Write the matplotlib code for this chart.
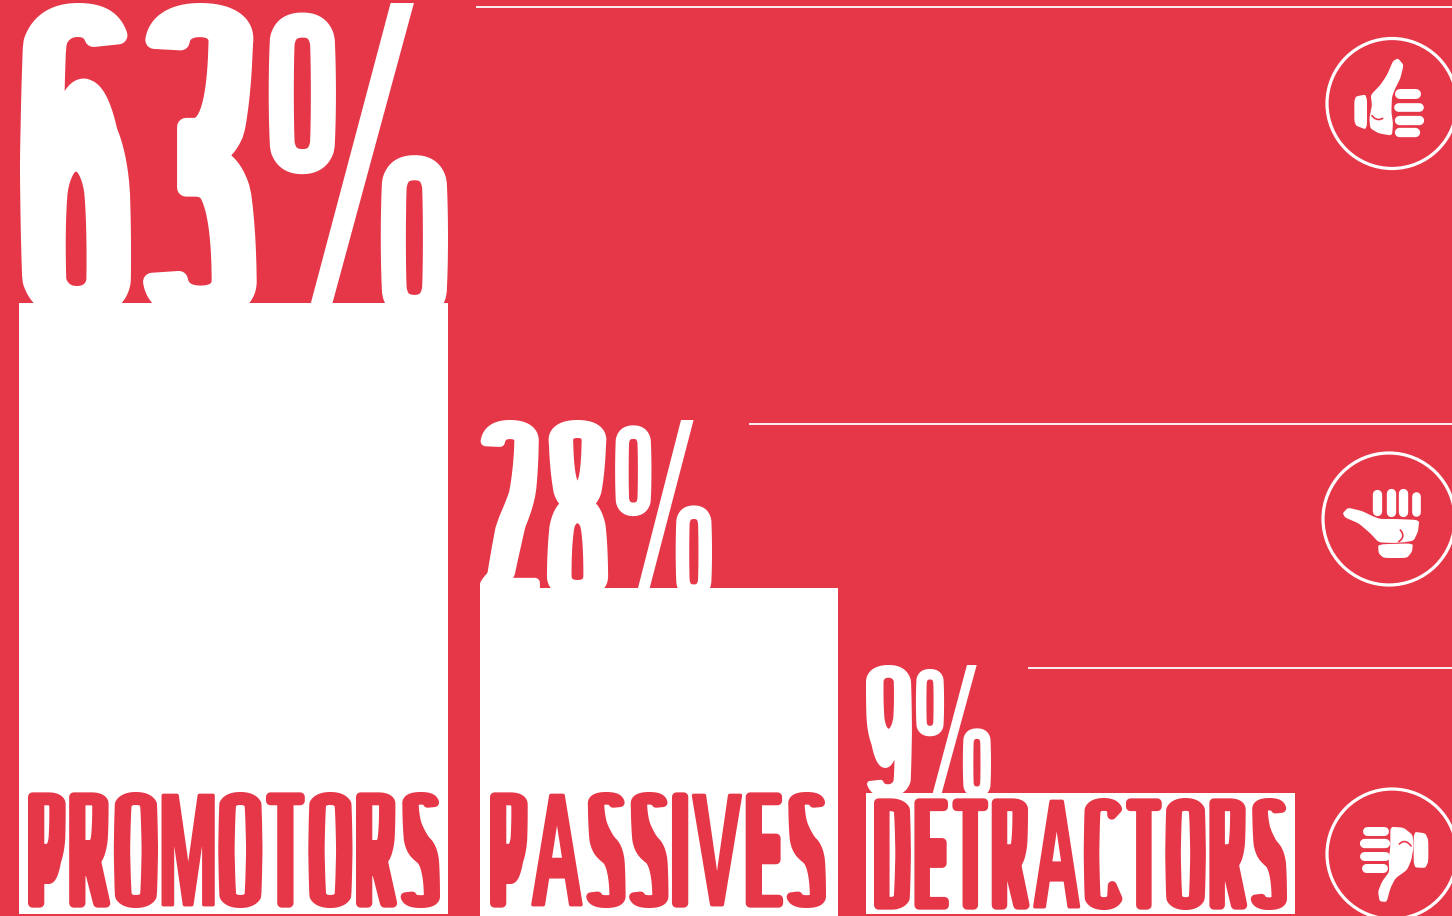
import numpy as np
import matplotlib
matplotlib.use("Agg")
import matplotlib.pyplot as plt
from matplotlib.font_manager import FontProperties
from matplotlib.patches import Circle, Polygon
from matplotlib.path import Path
from matplotlib.patheffects import AbstractPathEffect
from matplotlib.textpath import TextPath
from matplotlib.transforms import Affine2D, IdentityTransform

# survey shares
categories = ["PROMOTORS", "PASSIVES", "DETRACTORS"]
shares = [63, 28, 9]
share_labels = ["63%", "28%", "9%"]

RED = "#e63748"
WHITE = "#ffffff"
W, H = 1452, 916

# bar columns, in pixels
bar_left = [19, 480, 866]
bar_width = [429, 358, 429]
bar_floor = [0, -2, 0]

font = FontProperties(family=["Liberation Sans Narrow", "Liberation Sans"], weight="bold")


def rescale(v, lo, hi):
	return lo + (v - v.min()) / (v.max() - v.min()) * (hi - lo)


# straight contours with diagonals (A, M, V) are not bent, the warp would kink them
def is_slanted(p):
	d = np.diff(p, axis=0)
	seg = np.hypot(d[:, 0], d[:, 1])
	straight = len(p) <= 16 or (len(p) <= 30 and np.median(seg) > 60)
	return straight and np.any((np.abs(d[:, 0]) > 20) & (np.abs(d[:, 1]) > 20))


# reshapes the outlines of a string into a tall condensed poster face:
# every glyph is squeezed to fit a box, round ends stay short and the stems get long
class PosterFace(AbstractPathEffect):
	def __init__(self, w, h, lift, stroke, gap, color, end_in=0.3, end_out=0.105):
		super().__init__()
		self.w, self.h, self.lift, self.stroke, self.gap, self.color = w, h, lift, stroke, gap, color
		self.end_in, self.end_out = end_in, end_out

	# percent sign: two tall pills and a sharp slash, placed by fractions of the glyph box
	def percent(self, contours, x, wid, y0):
		s, h = self.stroke, self.h
		wall = 0.14 * wid
		soft = []
		loops = [p for p in contours if len(p) > 16]
		mid = (min(p[:, 0].min() for p in loops) + max(p[:, 0].max() for p in loops)) / 2
		for p in loops:
			left = (p[:, 0].min() + p[:, 0].max()) / 2 < mid
			same = [q for q in loops if ((q[:, 0].min() + q[:, 0].max()) / 2 < mid) == left]
			inner = (p[:, 0].max() - p[:, 0].min()) < max(q[:, 0].max() - q[:, 0].min() for q in same)
			ext = 0.375 * wid
			bx = x if left else x + wid - ext
			by0, by1 = (y0 + 0.46 * h, y0 + 0.97 * h) if left else (y0, y0 + 0.52 * h)
			inset = wall - s / 2 if inner else s / 2
			u = (p[:, 1] - p[:, 1].min()) / (p[:, 1].max() - p[:, 1].min())
			u = np.interp(u, [0, 0.3, 0.7, 1], [0, 0.12, 0.88, 1])
			v = np.column_stack([rescale(p[:, 0], bx + inset, bx + ext - inset), by0 + inset + u * (by1 - by0 - 2 * inset)])
			soft.append(Path(v, closed=True))
		slash = np.array([[x + 0.21 * wid, y0], [x + 0.33 * wid, y0], [x + 0.81 * wid, y0 + h], [x + 0.68 * wid, y0 + h], [x + 0.21 * wid, y0]])
		return soft, [Path(slash, closed=True)]

	def draw_path(self, renderer, gc, tpath, affine, rgbFace=None):
		polys = [p for p in tpath.transformed(Affine2D().scale(10)).to_polygons(closed_only=True) if len(p) > 2]
		ymin = min(p[:, 1].min() for p in polys)
		ymax = max(p[:, 1].max() for p in polys)

		# contours that really overlap in x belong to the same glyph, kerned neighbours do not
		polys.sort(key=lambda p: p[:, 0].min())
		glyphs = []
		for p in polys:
			a, b = p[:, 0].min(), p[:, 0].max()
			if glyphs and min(b, glyphs[-1][1]) - a > 0.3 * min(b - a, glyphs[-1][1] - glyphs[-1][0]):
				glyphs[-1][1] = max(glyphs[-1][1], b)
				glyphs[-1][2].append(p)
			else:
				glyphs.append([a, b, [p]])

		s = self.stroke
		thin = 0.4 * s
		# diagonal letters run wider in this face, all contours of a glyph go together
		diagonal = [len(g[2]) < 5 and any(is_slanted(p) for p in g[2]) for g in glyphs]
		weight = [1.25 if f else 1.0 for f in diagonal]
		ink = sum((g[1] - g[0]) * k for g, k in zip(glyphs, weight))
		sx = (self.w - s - (len(glyphs) - 1) * (self.gap + s)) / ink
		ox, oy = affine.get_matrix()[0, 2], affine.get_matrix()[1, 2] - self.lift
		e0, e1 = self.end_in, self.end_out
		knots_in = [0, e0, 0.42, 0.58, 1 - e0, 1]
		knots_out = [0, e1, 0.40, 0.60, 1 - e1, 1]

		out, lean, sharp = [], [], []
		x = ox + s / 2
		for g, k, f in zip(glyphs, weight, diagonal):
			wid = (g[1] - g[0]) * sx * k
			if len(g[2]) == 5:
				a, b = self.percent(g[2], x - s / 2, wid + s, oy)
				out += a
				sharp += b
			else:
				for p in g[2]:
					t = (p[:, 1] - ymin) / (ymax - ymin)
					if f:
						# lighter stroke keeps the notches open, so reach further out
						grow = (s - thin) / 2
						v = np.column_stack([x - grow + (p[:, 0] - g[0]) / (g[1] - g[0]) * (wid + 2 * grow),
							oy + thin / 2 + t * (self.h - thin)])
						lean.append(Path(v, closed=True))
					else:
						t = np.interp(t, knots_in, knots_out)
						v = np.column_stack([x + (p[:, 0] - g[0]) * sx * k, oy + s / 2 + t * (self.h - s)])
						out.append(Path(v, closed=True))
			x += wid + self.gap + s

		g2 = renderer.new_gc()
		g2.copy_properties(gc)
		g2.set_foreground(self.color)
		g2.set_joinstyle("round")
		g2.set_linewidth(s * 0.72)
		renderer.draw_path(g2, Path.make_compound_path(*out), IdentityTransform(), rgbFace)
		if lean:
			g2.set_linewidth(thin * 0.72)
			renderer.draw_path(g2, Path.make_compound_path(*lean), IdentityTransform(), rgbFace)
		g2.set_linewidth(0)
		for p in sharp:
			renderer.draw_path(g2, p, IdentityTransform(), rgbFace)
		g2.restore()


def poster_text(ax, s, x0, x1, top, bottom, color, stroke, gap, **kw):
	# font size chosen so the plain string is as wide as the box
	box = TextPath((0, 0), s, size=100, prop=font).get_extents()
	px = 100.0 * (x1 - x0) / box.width
	lift = 0.3 * px
	t = ax.text(x0, bottom - lift, s, color=color, fontproperties=font, fontsize=px * 0.72,
		ha="left", va="baseline", clip_on=True)
	t.set_path_effects([PosterFace(x1 - x0, bottom - top, lift, stroke, gap, color, **kw)])
	return t


# corner cutting, rounds off the hand outlines
def smooth(pts, n=2, a=0.14):
	pts = np.array(pts, float)
	for i in range(n):
		nxt = np.roll(pts, -1, axis=0)
		pts = np.column_stack([(1 - a) * pts + a * nxt, a * pts + (1 - a) * nxt]).reshape(-1, 2)
	return pts


def hand(ax, x0, y0, cx, cy, r, shapes, fingers, crease):
	ax.add_patch(Circle((cx, cy), r, fill=False, ec=WHITE, lw=3.2 * 0.72))
	for pts in shapes:
		p = smooth(pts) / 3 + [x0, y0]
		ax.add_patch(Polygon(p, closed=True, fc=WHITE, ec="none"))
	for (a, b, c, d) in fingers:
		if c - a > d - b:
			lw = (d - b) / 3
			xs = [x0 + a / 3 + lw / 2, x0 + c / 3 - lw / 2]
			ys = [y0 + (b + d) / 6] * 2
		else:
			lw = (c - a) / 3
			xs = [x0 + (a + c) / 6] * 2
			ys = [y0 + b / 3 + lw / 2, y0 + d / 3 - lw / 2]
		ax.plot(xs, ys, color=WHITE, lw=lw * 0.72, solid_capstyle="round")
	# quadratic curve for the skin fold
	c = np.array(crease, float) / 3 + [x0, y0]
	u = np.linspace(0, 1, 20)[:, None]
	fold = (1 - u) ** 2 * c[0] + 2 * u * (1 - u) * c[1] + u ** 2 * c[2]
	ax.plot(fold[:, 0], fold[:, 1], color=RED, lw=1.2, solid_capstyle="round")


fig = plt.figure(figsize=(W / 100, H / 100), dpi=100, facecolor=RED)

# bars: share value to pixel height is a hand tuned, non linear scale
ax = fig.add_axes([0, 0, 1, 1])
share_knots = [-2, 0, 9, 28, 63, 100]
height_knots = [0, 2, 123, 328, 613, 916]
ax.set_yscale("function", functions=(
	lambda v: np.interp(v, share_knots, height_knots),
	lambda p: np.interp(p, height_knots, share_knots)))
ax.set_ylim(-2, 100)
ax.set_xlim(0, W)
ax.axis("off")
floors = np.array(bar_floor)
ax.bar(bar_left, np.array(shares) - floors, bottom=floors, width=bar_width, align="edge", color=WHITE, linewidth=0)

# overlay in pixel coordinates for the type, rules and icons
ov = fig.add_axes([0, 0, 1, 1])
ov.set_xlim(0, W)
ov.set_ylim(H, 0)
ov.axis("off")
ov.patch.set_alpha(0)

poster_text(ov, share_labels[0], 20, 448, 3, 320, WHITE, stroke=18, gap=12)
poster_text(ov, share_labels[1], 480, 712, 420, 598, WHITE, stroke=10, gap=7)
poster_text(ov, share_labels[2], 866, 991, 665, 797, WHITE, stroke=6, gap=4)

poster_text(ov, categories[0], 28, 440, 792, 908, RED, stroke=9, gap=3.5, end_out=0.07)
poster_text(ov, categories[1], 490, 826, 792, 908, RED, stroke=9, gap=3.5, end_out=0.07)
poster_text(ov, categories[2], 874, 1287, 798, 910, RED, stroke=9, gap=3.5, end_out=0.07)

# rules
ov.plot([476, W], [7, 7], color=WHITE, lw=1.3, solid_capstyle="butt")
ov.plot([749, W], [424, 424], color=WHITE, lw=1.3, solid_capstyle="butt")
ov.plot([1028, W], [668, 668], color=WHITE, lw=1.3, solid_capstyle="butt")

# thumbs
hand(ov, 1312, 25, 1392, 103.5, 65,
	[[(127, 215), (165, 208), (165, 315), (127, 300)],
	 [(258, 100), (275, 120), (265, 160), (250, 190), (240, 215), (238, 260), (243, 295), (240, 332),
	  (200, 325), (175, 310), (172, 280), (180, 240), (176, 210), (205, 180), (225, 150), (243, 108)]],
	[(250, 192, 328, 222), (245, 232, 335, 258), (247, 270, 335, 298), (248, 308, 323, 336)],
	[(180, 272), (195, 290), (212, 280)])
hand(ov, 1312, 445, 1389, 519, 66,
	[[(92, 205), (108, 188), (150, 198), (185, 215), (205, 222), (250, 222), (322, 225), (318, 260), (305, 287),
	  (275, 292), (240, 294), (200, 292), (175, 265), (140, 235), (100, 218)],
	 [(198, 298), (303, 295), (300, 320), (285, 339), (215, 339), (200, 325)]],
	[(182, 133, 210, 212), (222, 130, 250, 214), (260, 130, 288, 214), (300, 140, 326, 214)],
	[(265, 255), (282, 275), (260, 290)])
hand(ov, 1312, 780, 1392, 854, 65,
	[[(235, 140), (275, 143), (302, 165), (305, 200), (298, 240), (285, 270), (250, 295), (235, 325), (224, 366),
	  (203, 364), (198, 335), (210, 305), (232, 275), (230, 240), (235, 200)],
	 [(305, 155), (340, 160), (349, 180), (349, 245), (340, 264), (305, 262)]],
	[(152, 138, 228, 165), (142, 175, 232, 203), (142, 213, 232, 240), (148, 250, 226, 277)],
	[(262, 192), (280, 175), (297, 198)])

fig.savefig("out.png", dpi=100, facecolor=RED)
